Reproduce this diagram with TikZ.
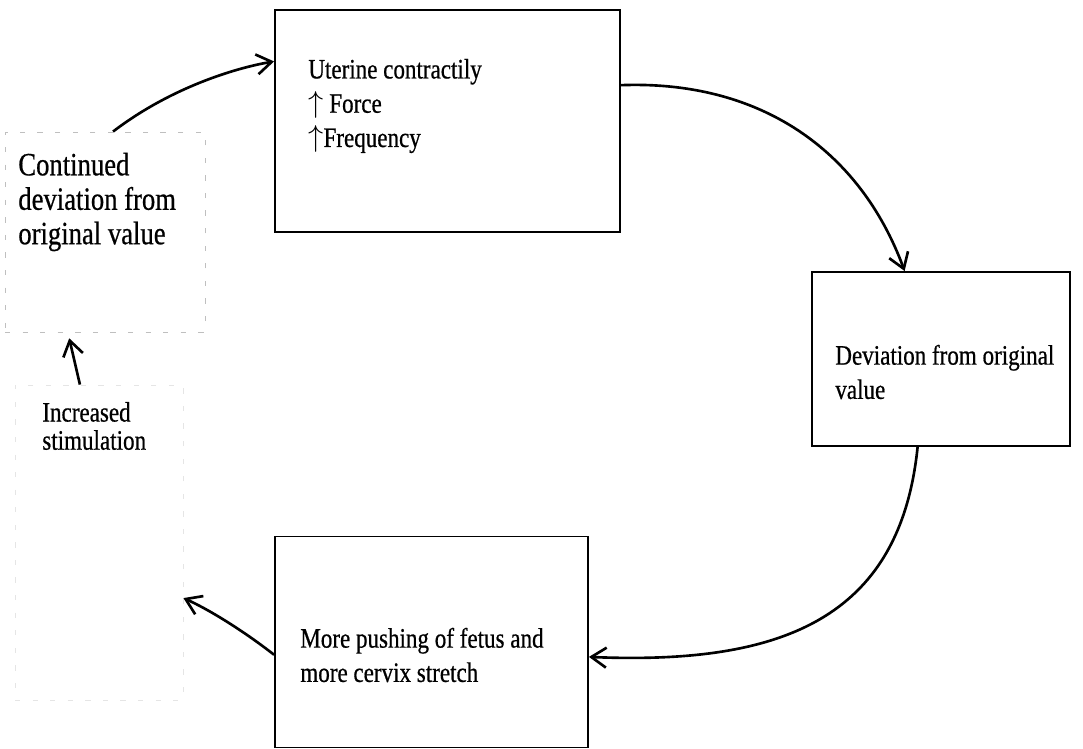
\documentclass[tikz,border=0pt]{standalone}
\usepackage{fontspec}
\setmainfont{Liberation Serif}[FakeStretch=0.82, FakeBold=0.6]
\usetikzlibrary{arrows.meta,calc}

\begin{document}
\begin{tikzpicture}[x=0.02cm, y=-0.02cm, box/.style={draw, rectangle, line width=1.1pt, inner sep=0pt}, faint/.style={draw=black!25, rectangle, dash pattern=on 3pt off 7pt, line width=0.5pt, inner sep=0pt}, txt/.style={anchor=west, align=left, inner sep=0pt, font=\fontsize{16}{19.5}\selectfont}, n/.style={-{Straight Barb[length=3mm, width=4mm]}, line width=1.5pt}]
        \useasboundingbox (0,0) rectangle (1083,749);
        % nodes
        \node[box, minimum width=6.9cm, minimum height=4.44cm] (ut) at (447.5,121) {};
        \node[box, minimum width=5.16cm, minimum height=3.48cm] (dev) at (941,359) {};
        \node[box, minimum width=6.26cm, minimum height=4.22cm] (push) at (431.5,642) {};
        \node[faint, minimum width=4cm, minimum height=4cm] (cont) at (105,232) {};
        \node[faint, draw=black!10, minimum width=3.36cm, minimum height=6.3cm] (stim) at (99,542.5) {};
        % texts
        \node[txt] (uttext) at (308,106) {Uterine contractily\\$\uparrow$ Force\\$\uparrow$Frequency};
        \node[txt] (devtext) at (835,372) {Deviation from original\\value};
        \node[txt] (pushtext) at (300,655) {More pushing of fetus and\\more cervix stretch};
        \node[txt, font=\fontsize{18.5}{19.6}\selectfont] (conttext) at (18,202) {Continued\\deviation from\\original value};
        \node[txt, font=\fontsize{16}{16}\selectfont] (stimtext) at (42,426) {Increased\\stimulation};
        % edges
        \draw[n] ($(cont.north west)!0.54!(cont.north east)$) .. controls (170,88) and (235,68) .. ($(ut.north west)!0.234!(ut.south west)$);
        \draw[n] ($(ut.north east)!0.34!(ut.south east)$) .. controls (760,80) and (860,150) .. ($(dev.north west)!0.36!(dev.north east)$);
        \draw[n] ($(dev.south west)!0.41!(dev.south east)$) .. controls (900,620) and (780,665) .. ($(push.north east)!0.57!(push.south east)$);
        \draw[n] ($(push.north west)!0.56!(push.south west)$) .. controls (245,632) and (210,610) .. ($(stim.north east)!0.676!(stim.south east)$);
        \draw[n, shorten >=0.12cm] ($(stim.north west)!0.387!(stim.north east)$) -- ($(cont.south west)!0.315!(cont.south east)$);
    \end{tikzpicture}
\end{document}
